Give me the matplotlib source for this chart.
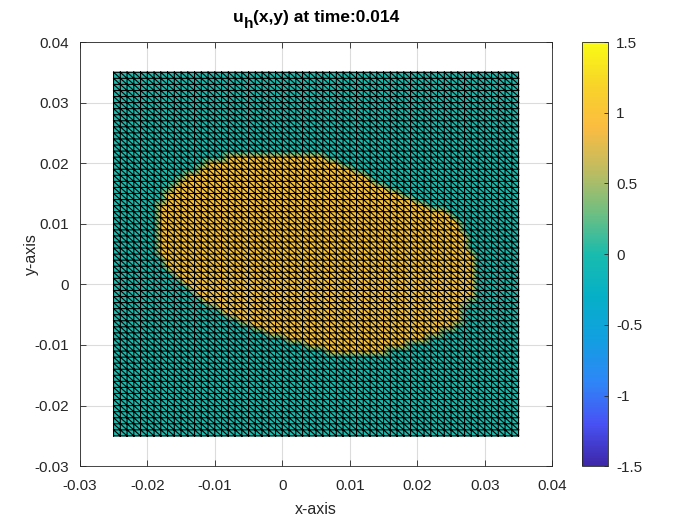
import numpy as np
import matplotlib
matplotlib.use('Agg')
import matplotlib.pyplot as plt
import matplotlib.tri as mtri
from matplotlib.colors import LinearSegmentedColormap

plt.rcParams['font.family'] = ['Liberation Sans', 'DejaVu Sans']

# mesh: uniform grid, h = 0.001
x_min, x_max = -0.025, 0.035
y_min, y_max = -0.025, 0.035
n_cells = 60

# orange region (u = 1)
row_y = [-0.011, -0.010, -0.009, -0.008, -0.007, -0.006, -0.005, -0.004, -0.003,
         -0.002, -0.001, 0.000, 0.001, 0.002, 0.003, 0.004, 0.005, 0.006, 0.007,
         0.008, 0.009, 0.010, 0.011, 0.012, 0.013, 0.014, 0.015, 0.016, 0.017,
         0.018, 0.019, 0.020, 0.021]
x_left = [0.007, 0.004, 0.001, -0.002, -0.004, -0.006, -0.008, -0.009, -0.011,
          -0.012, -0.013, -0.014, -0.015, -0.016, -0.017, -0.017, -0.018, -0.018,
          -0.018, -0.018, -0.018, -0.018, -0.018, -0.018, -0.018, -0.017, -0.017,
          -0.016, -0.015, -0.014, -0.012, -0.011, -0.008]
x_right = [0.015, 0.018, 0.021, 0.023, 0.025, 0.026, 0.026, 0.026, 0.027,
           0.028, 0.028, 0.028, 0.028, 0.028, 0.028, 0.028, 0.028, 0.027, 0.027,
           0.027, 0.026, 0.026, 0.025, 0.024, 0.021, 0.019, 0.017, 0.015, 0.013,
           0.012, 0.010, 0.008, 0.006]
u_inside = 1.0
u_outside = 0.0

# parula-like colormap
parula_pts = [
    (0.00, (0.2422, 0.1504, 0.6603)),
    (0.10, (0.2810, 0.3228, 0.9579)),
    (0.20, (0.1786, 0.5289, 0.9682)),
    (0.30, (0.0700, 0.6250, 0.8800)),
    (0.40, (0.0200, 0.6900, 0.7800)),
    (0.50, (0.1000, 0.7350, 0.6800)),
    (0.60, (0.4420, 0.7481, 0.5033)),
    (0.70, (0.7525, 0.7384, 0.3768)),
    (0.80, (0.9856, 0.7372, 0.2537)),
    (0.90, (0.9725, 0.8310, 0.1601)),
    (1.00, (0.9769, 0.9839, 0.0805)),
]
parula = LinearSegmentedColormap.from_list('parula', parula_pts)

# nodes
xs = np.linspace(x_min, x_max, n_cells + 1)
ys = np.linspace(y_min, y_max, n_cells + 1)
X, Y = np.meshgrid(xs, ys)
U = np.full(X.shape, u_outside)
for yr, xl, xr in zip(row_y, x_left, x_right):
    j = int(round((yr - y_min) / (ys[1] - ys[0])))
    sel = (xs >= xl - 1e-6) & (xs <= xr + 1e-6)
    U[j, sel] = u_inside

# triangles, diagonal from top-left to bottom-right of each cell
n = n_cells + 1
tris = []
for j in range(n_cells):
    for i in range(n_cells):
        a = j * n + i
        b = j * n + i + 1
        c = (j + 1) * n + i
        d = (j + 1) * n + i + 1
        tris.append([a, b, c])
        tris.append([b, d, c])
tri = mtri.Triangulation(X.ravel(), Y.ravel(), np.array(tris))

fig = plt.figure(figsize=(7, 5.25), dpi=100)
ax = fig.add_axes([0.114, 0.112, 0.675, 0.808])
cax = fig.add_axes([0.8315, 0.112, 0.037, 0.808])

tpc = ax.tripcolor(tri, U.ravel(), shading='gouraud', cmap=parula, vmin=-1.5, vmax=1.5, zorder=2)
ax.triplot(tri, color='black', lw=0.8, zorder=3)

ax.set_xlim(-0.03, 0.04)
ax.set_ylim(-0.03, 0.04)
ticks = [-0.03, -0.02, -0.01, 0, 0.01, 0.02, 0.03, 0.04]
ax.set_xticks(ticks)
ax.set_yticks(ticks)
ax.set_xticklabels(['%g' % t for t in ticks])
ax.set_yticklabels(['%g' % t for t in ticks])
ax.grid(True, color='#dcdcdc', lw=0.8, zorder=0)
ax.set_axisbelow(True)
ax.tick_params(direction='in', length=4, width=0.6, colors='#262626', labelsize=11,
               top=True, right=True)
ax.tick_params(axis='x', pad=9)
ax.tick_params(axis='y', pad=8)
for s in ax.spines.values():
    s.set_color('#262626')
    s.set_linewidth(0.6)
ax.set_xlabel('x-axis', fontsize=11.5, color='#262626')
ax.set_ylabel('y-axis', fontsize=11.5, color='#262626')
ax.xaxis.set_label_coords(0.5, -0.085)
ax.yaxis.set_label_coords(-0.087, 0.5)

# title: u with subscript h, built from pieces
title_parts = [('u', 0), ('h', -6), ('(x,y) at time:0.014', 0)]
renderer = fig.canvas.get_renderer()
pieces = []
total_w = 0
for s, dy in title_parts:
    fs = 12.5 if dy == 0 else 11
    t = fig.text(0, 0, s, fontsize=fs, fontweight='bold', color='black', va='baseline')
    w = t.get_window_extent(renderer).width
    pieces.append((t, w, dy))
    total_w += w
ax_bb = ax.get_window_extent(renderer)
x0 = (ax_bb.x0 + ax_bb.x1) / 2 - total_w / 2
base_y = 525 - 22
for t, w, dy in pieces:
    t.set_transform(None)
    t.set_position((x0, base_y + dy))
    x0 += w

cb = fig.colorbar(tpc, cax=cax)
cb.set_ticks([-1.5, -1, -0.5, 0, 0.5, 1, 1.5])
cb.set_ticklabels(['-1.5', '-1', '-0.5', '0', '0.5', '1', '1.5'])
cb.ax.tick_params(direction='in', length=3, width=0.6, colors='#262626', labelsize=11, pad=6)
cb.outline.set_edgecolor('#262626')
cb.outline.set_linewidth(0.6)

fig.savefig('out.png', dpi=100)
